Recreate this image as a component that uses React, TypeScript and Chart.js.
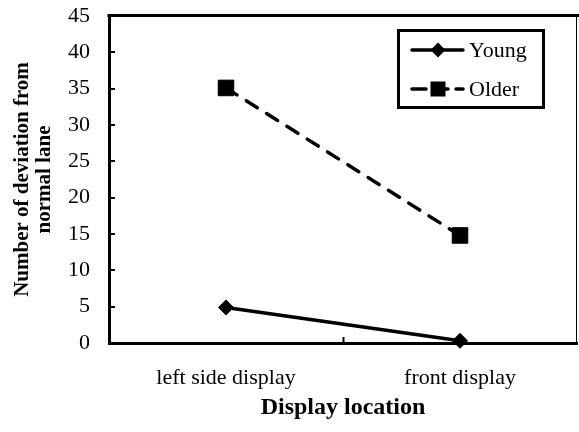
import React, { useEffect, useRef } from "react";
import { Chart, registerables } from "chart.js";

Chart.register(...registerables);

const categories = ["left side display", "front display"];
const youngValues = [4.9, 0.3];
const olderValues = [35.1, 14.8];
const seriesNames = ["Young", "Older"];
const yTicks = [0, 5, 10, 15, 20, 25, 30, 35, 40, 45];
const yTitleLines = ["Number of deviation from", "normal lane"];
const xTitle = "Display location";

const SERIF = "'Liberation Serif', 'Times New Roman', serif";

const decor = {
  id: "decor",
  afterDraw(chart: any) {
    const { ctx, chartArea: a, scales } = chart;
    const ys = scales.y;
    const xs = scales.x;
    ctx.save();
    ctx.strokeStyle = "#000";
    // top border
    ctx.lineWidth = 3;
    ctx.beginPath();
    ctx.moveTo(a.left - 1.5, a.top - 0.5);
    ctx.lineTo(a.right + 2, a.top - 0.5);
    ctx.stroke();
    // right thin border
    ctx.lineWidth = 1;
    ctx.beginPath();
    ctx.moveTo(a.right - 0.5, a.top);
    ctx.lineTo(a.right - 0.5, a.bottom);
    ctx.stroke();
    // inward y ticks
    ctx.lineWidth = 2;
    yTicks.forEach((v) => {
      if (v === 0 || v === 45) return;
      const py = Math.round(ys.getPixelForValue(v));
      ctx.beginPath();
      ctx.moveTo(a.left, py);
      ctx.lineTo(a.left + 6, py);
      ctx.stroke();
    });
    // inward x boundary tick
    const mid = (xs.getPixelForValue(0) + xs.getPixelForValue(1)) / 2;
    ctx.beginPath();
    ctx.moveTo(Math.round(mid) + 0.5, a.bottom);
    ctx.lineTo(Math.round(mid) + 0.5, a.bottom - 6);
    ctx.stroke();

    // axis titles
    ctx.fillStyle = "#000";
    ctx.font = `bold 24px ${SERIF}`;
    ctx.textAlign = "center";
    ctx.textBaseline = "alphabetic";
    ctx.fillText(xTitle, (a.left + a.right) / 2, 414);
    ctx.save();
    ctx.font = `bold 21px ${SERIF}`;
    ctx.translate(0, (a.top + a.bottom) / 2);
    ctx.rotate(-Math.PI / 2);
    ctx.textBaseline = "middle";
    ctx.fillText(yTitleLines[0], 0, 23);
    ctx.fillText(yTitleLines[1], 0, 45);
    ctx.restore();

    // legend
    const bx = 398.5, by = 30.5, bw = 145, bh = 77;
    ctx.lineWidth = 3;
    ctx.strokeRect(bx, by, bw, bh);
    const rowsY = [50, 89];
    chart.data.datasets.forEach((ds: any, i: number) => {
      const y = rowsY[i];
      ctx.save();
      ctx.lineWidth = ds.borderWidth;
      ctx.strokeStyle = ds.borderColor;
      ctx.lineCap = "round";
      ctx.setLineDash(ds.borderDash ? [14, 8] : []);
      ctx.beginPath();
      ctx.moveTo(412, y);
      ctx.lineTo(463, y);
      ctx.stroke();
      ctx.restore();
      ctx.fillStyle = "#000";
      ctx.beginPath();
      if (ds.pointStyle === "rectRot") {
        const r = 7.5;
        ctx.moveTo(438 - r, y);
        ctx.lineTo(438, y - r);
        ctx.lineTo(438 + r, y);
        ctx.lineTo(438, y + r);
        ctx.closePath();
      } else {
        ctx.rect(438 - 7.5, y - 7.5, 15, 15);
      }
      ctx.fill();
      ctx.font = `22px ${SERIF}`;
      ctx.textAlign = "left";
      ctx.textBaseline = "middle";
      ctx.fillText(ds.label, 469, y + 1);
    });
    ctx.restore();
  },
};

export default function App() {
  const ref = useRef<HTMLCanvasElement | null>(null);
  useEffect(() => {
    document.body.style.margin = "0";
    const canvas = ref.current!;
    const chart = new Chart(canvas, {
      type: "line",
      data: {
        labels: categories,
        datasets: [
          {
            label: seriesNames[0],
            data: youngValues,
            borderColor: "#000",
            backgroundColor: "#000",
            borderWidth: 3.5,
            pointStyle: "rectRot",
            pointRadius: 7.5,
            pointBorderWidth: 1,
            clip: false as any,
          },
          {
            label: seriesNames[1],
            data: olderValues,
            borderColor: "#000",
            backgroundColor: "#000",
            borderWidth: 3.5,
            borderDash: [13, 11],
            borderCapStyle: "round",
            pointStyle: "rect",
            pointRadius: 11,
            pointBorderWidth: 1,
            clip: false as any,
          },
        ],
      },
      options: {
        responsive: false,
        animation: false,
        devicePixelRatio: 1,
        layout: { padding: { top: 16, right: 2, left: 0, bottom: 0 }, autoPadding: false },
        plugins: { legend: { display: false }, tooltip: { enabled: false } },
        scales: {
          x: {
            offset: true,
            grid: { display: false, drawTicks: false },
            border: { display: true, color: "#000", width: 3 },
            ticks: { color: "#000", font: { family: SERIF, size: 22 }, padding: 22, maxRotation: 0 },
            afterFit: (s: any) => {
              s.height = 89;
              s.paddingLeft = 0;
              s.paddingRight = 0;
            },
          },
          y: {
            min: 0,
            max: 45,
            grid: { display: false, drawTicks: false },
            border: { display: true, color: "#000", width: 3 },
            ticks: { color: "#000", stepSize: 5, font: { family: SERIF, size: 22 }, padding: 19 },
            afterFit: (s: any) => {
              s.width = 109;
              s.paddingTop = 0;
              s.paddingBottom = 0;
            },
          },
        },
      },
      plugins: [decor],
    });
    return () => chart.destroy();
  }, []);
  return <canvas ref={ref} width={579} height={432} style={{ display: "block" }} />;
}
